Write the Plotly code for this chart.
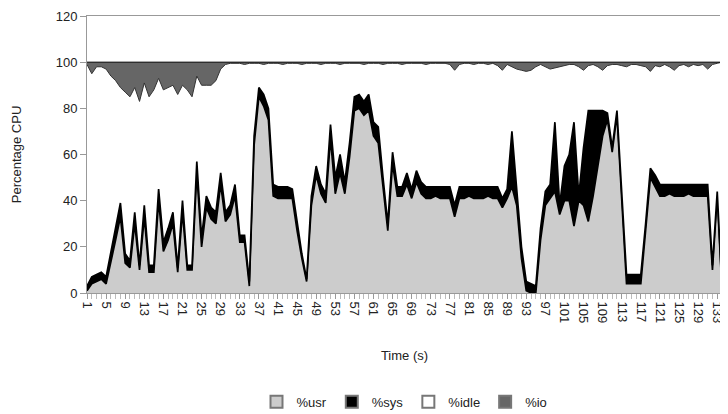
import plotly.graph_objects as go

time_s = list(range(1, 135))

usr = [1,4,5,6,4,13,23,33,13,11,
       30,10,33,9,9,40,18,23,30,9,
       35,10,10,52,20,37,32,30,47,31,
       34,42,22,22,3,64,85,81,75,42,
       41,41,41,41,27,15,5,38,51,43,
       39,67,43,52,43,59,79,80,77,79,
       68,65,46,27,56,42,42,47,41,48,
       43,41,41,42,41,41,41,33,41,41,
       42,41,41,41,42,41,41,37,41,46,
       38,15,1,0,0,23,38,41,44,34,
       40,40,29,40,38,31,42,55,68,75,
       61,77,40,4,4,4,4,27,50,46,
       42,42,43,42,42,42,43,42,42,42,
       42,10,42,1]

sys_ = [2,3,3,3,3,5,5,6,4,3,
        5,2,5,3,3,5,4,5,5,2,
        5,2,2,5,4,5,5,5,5,4,
        4,5,3,3,2,4,4,5,5,5,
        5,5,5,4,3,2,1,4,4,4,
        4,6,7,8,5,6,6,6,6,7,
        6,7,4,3,5,4,4,5,4,5,
        5,5,5,4,5,5,5,5,5,5,
        4,5,5,5,4,5,5,4,4,24,
        7,5,4,4,3,5,6,6,30,4,
        15,20,45,2,25,48,37,24,11,3,
        2,2,2,4,4,4,4,3,4,5,
        5,5,4,5,5,5,4,5,5,5,
        5,2,2,1]

io = [1,5,2,2,3,6,8,11,13,15,
      11,17,9,15,12,7,12,11,10,14,
      10,12,15,6,10,10,10,8,3,1,
      0.5,0.5,0.5,1,0.5,0.5,0.5,1,0.5,0.5,
      0.5,1,0.5,0.5,0.5,1,0.5,0.5,0.5,1,
      0.5,0.5,0.5,1,0.5,0.5,0.5,0.5,1,0.5,
      0.5,0.5,1,0.5,0.5,0.5,1,0.5,0.5,0.5,
      0.5,1,0.5,0.5,0.5,0.5,1,3.5,1,0.5,
      0.5,1,0.5,0.5,1,0.5,1.5,3.5,1,2,
      3,3.5,4,3.5,2,1,2,3,2.5,2,
      1.5,1,1,2,3.5,1.5,1,2,3.5,1.5,
      1,1,1.5,2,1,1,1.5,2,4,1.5,
      2,1,2,3.5,1.5,1,2,1,1.5,1,
      3,1,0.5,0]

# idle is the remainder of 100 %
idle = [100 - u - s - i for u, s, i in zip(usr, sys_, io)]

tick_vals = list(range(1, 135, 4))
tick_text = [str(v) for v in tick_vals]

FONT = "Liberation Sans"

fig = go.Figure()
series = [
    ("%usr", usr, "#cccccc", "#000000", 1.7),
    ("%sys", sys_, "#000000", "#000000", 1.7),
    ("%idle", idle, "#ffffff", "#333333", 1.0),
    ("%io", io, "#666666", "#000000", 1.0),
]
for name, vals, fillc, linec, lw in series:
    fig.add_trace(go.Scatter(
        x=time_s, y=vals, name=name, mode="lines",
        stackgroup="cpu", fillcolor=fillc,
        line=dict(color=linec, width=lw),
        hoverinfo="x+y+name", showlegend=False,
    ))
# legend entries as square swatches
for name, vals, fillc, linec, lw in series:
    fig.add_trace(go.Scatter(
        x=[None], y=[None], name=name, mode="markers",
        marker=dict(symbol="square", size=11, color=fillc,
                    line=dict(color="#777777", width=1)),
        showlegend=True,
    ))

# page body adds an 8px offset, so the figure is drawn 8px smaller
fig.update_layout(
    width=720, height=406,
    margin=dict(l=79, r=6, t=8, b=121, autoexpand=False),
    paper_bgcolor="white", plot_bgcolor="white",
    font=dict(family=FONT, size=13, color="#222222"),
    showlegend=True,
    legend=dict(orientation="h", x=0.5, xanchor="center",
                yref="container", y=0.03, yanchor="middle",
                font=dict(family=FONT, size=13, color="#222222"),
                itemwidth=30, traceorder="normal", tracegroupgap=0,
                itemsizing="constant"),
)
fig.update_xaxes(
    range=[1, 134], automargin=False,
    tickmode="array", tickvals=tick_vals, ticktext=tick_text,
    tickangle=90, ticks="outside", ticklen=5, tickcolor="#999999",
    minor=dict(dtick=1, tick0=1, ticks="outside", ticklen=5, tickcolor="#bbbbbb", showgrid=False),
    showgrid=False, zeroline=False,
    showline=True, linecolor="#999999", linewidth=1, mirror=True,
    title=dict(text="Time (s)", standoff=28, font=dict(family=FONT, size=13)),
    tickfont=dict(family=FONT, size=13),
)
fig.update_yaxes(
    range=[0, 120], dtick=20, tick0=0, automargin=False,
    ticks="outside", ticklen=6, tickcolor="#999999",
    showgrid=False, zeroline=False,
    showline=True, linecolor="#999999", linewidth=1, mirror=True,
    title=dict(text="Percentage CPU", standoff=31, font=dict(family=FONT, size=13)),
    tickfont=dict(family=FONT, size=13),
)

fig.write_html("out.html")
